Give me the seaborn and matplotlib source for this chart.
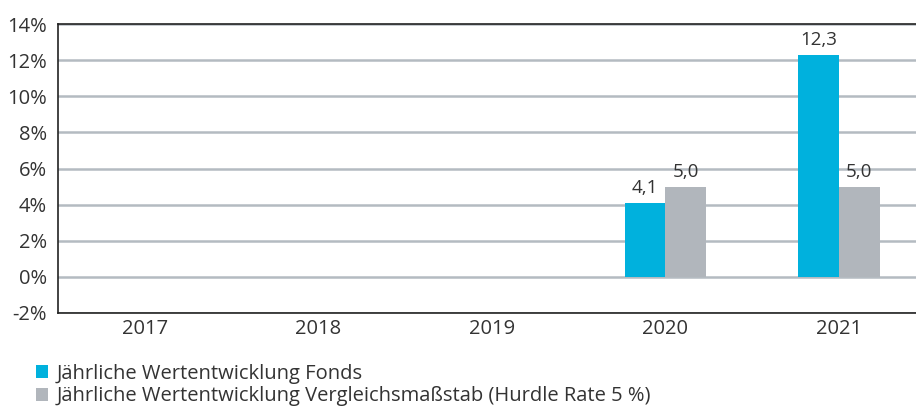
import matplotlib
matplotlib.use("Agg")
import matplotlib.pyplot as plt
import pandas as pd
import seaborn as sns
from matplotlib.ticker import FuncFormatter

years = ["2017", "2018", "2019", "2020", "2021"]
fonds = [None, None, None, 4.1, 12.3]
hurdle = [None, None, None, 5.0, 5.0]
series_names = [
    "Jährliche Wertentwicklung Fonds",
    "Jährliche Wertentwicklung Vergleichsmaßstab (Hurdle Rate 5 %)",
]
colors = ["#00b1dd", "#b1b6bc"]
y_ticks = [-2, 0, 2, 4, 6, 8, 10, 12, 14]

df = pd.DataFrame({
    "Jahr": years * 2,
    "Wert": fonds + hurdle,
    "Reihe": [series_names[0]] * len(years) + [series_names[1]] * len(years),
})

sns.set_style("white")
plt.rcParams["font.family"] = ["Open Sans", "DejaVu Sans"]
text_col = "#333333"

fig = plt.figure(figsize=(9.16, 4.08), dpi=100)
ax = fig.add_axes([58 / 916, 1 - 313 / 408, 1 - 58 / 916, 289 / 408])

sns.barplot(data=df, x="Jahr", y="Wert", hue="Reihe", order=years,
            hue_order=series_names, palette=colors, width=0.47,
            saturation=1, linewidth=0, ax=ax, zorder=3)

ax.set_ylim(-2, 14)
ax.set_xlim(-0.5, 4.445)
ax.set_yticks(y_ticks)
ax.yaxis.set_major_formatter(FuncFormatter(lambda v, p: f"{v:.0f}%"))
ax.grid(axis="y", color="#b4bbc1", linewidth=1.8, zorder=0)
ax.set_xlabel("")
ax.set_ylabel("")
ax.tick_params(axis="both", length=0, labelsize=14.5, colors=text_col)
ax.tick_params(axis="x", pad=4)
ax.tick_params(axis="y", pad=8)
for side in ["left", "top", "bottom"]:
    ax.spines[side].set_color("#222222")
    ax.spines[side].set_linewidth(1.2)
    ax.spines[side].set_zorder(4)
ax.spines["right"].set_visible(False)

for cont in ax.containers:
    labels = ["" if pd.isna(v) else f"{v:.1f}".replace(".", ",") for v in cont.datavalues]
    ax.bar_label(cont, labels=labels, padding=4, fontsize=13.5, color=text_col)

handles, labels = ax.get_legend_handles_labels()
ax.get_legend().remove()
fig.legend(handles, labels, loc="upper left", bbox_to_anchor=(0.028, 0.133),
           frameon=False, fontsize=14.5, handlelength=0.6, handleheight=0.6,
           handletextpad=0.45, labelspacing=0.12, borderpad=0, labelcolor=text_col)

fig.savefig("out.png", dpi=100)
